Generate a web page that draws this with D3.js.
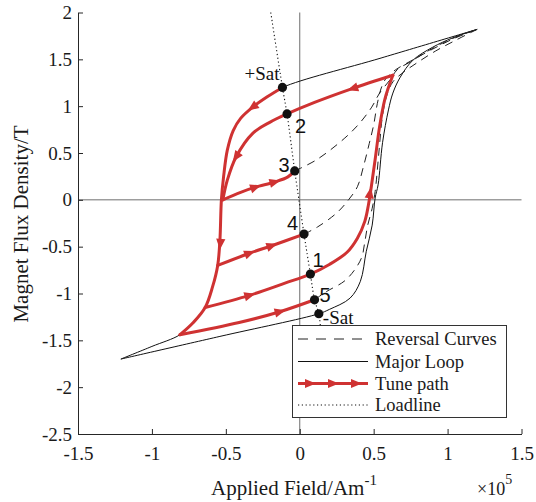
<!DOCTYPE html>
<html><head><meta charset="utf-8">
<script src="https://cdn.jsdelivr.net/npm/d3@7"></script>
<style>body{margin:0;background:#fff}svg{display:block}</style>
</head><body><svg id="c" width="536" height="502"></svg>
<script>
// ---------- data ----------
const xTicks = [-1.5, -1, -0.5, 0, 0.5, 1, 1.5];
const yTicks = [-2.5, -2, -1.5, -1, -0.5, 0, 0.5, 1, 1.5, 2];

// major loop (H in 1e5 A/m, B in T)
const majorDescH = [1.2, 0.55, -0.117, -0.22, -0.318, -0.40, -0.45, -0.49, -0.515, -0.53, -0.54, -0.555, -0.59, -0.64, -0.72, -0.81, -1.0, -1.21];
const majorDescB = [1.82, 1.514, 1.20, 1.10, 0.99, 0.87, 0.74, 0.53, 0.25, 0.0, -0.43, -0.70, -0.93, -1.15, -1.31, -1.44, -1.565, -1.70];
const majorAscH = [-1.21, -0.54, 0.129, 0.2, 0.34, 0.41, 0.45, 0.49, 0.51, 0.53, 0.56, 0.60, 0.63, 0.68, 0.765, 0.90, 1.036, 1.2];
const majorAscB = [-1.70, -1.458, -1.216, -1.17, -1.05, -0.87, -0.55, -0.27, 0.02, 0.16, 0.61, 0.96, 1.14, 1.31, 1.49, 1.63, 1.73, 1.82];

// reversal curves
const rev3H = [-0.034, 0.113, 0.305, 0.406, 0.487, 0.54, 0.61, 0.66, 0.745, 0.89, 1.03, 1.2];
const rev3B = [0.309, 0.427, 0.66, 0.82, 0.99, 1.14, 1.28, 1.39, 1.47, 1.61, 1.72, 1.82];
const rev4H = [0.029, 0.12, 0.25, 0.33, 0.39, 0.43, 0.47, 0.50, 0.525, 0.555, 0.59, 0.65, 0.76, 0.9, 1.04, 1.2];
const rev4B = [-0.366, -0.29, -0.14, 0.0, 0.14, 0.35, 0.6, 0.8, 1.03, 1.21, 1.31, 1.39, 1.49, 1.61, 1.72, 1.82];
const rev5H = [0.10, 0.18, 0.30, 0.37, 0.42, 0.44, 0.46, 0.49, 0.51, 0.535, 0.56, 0.59, 0.63, 0.70, 0.80, 0.92, 1.05, 1.2];
const rev5B = [-1.067, -0.98, -0.87, -0.75, -0.61, -0.45, -0.27, -0.09, 0.09, 0.5, 0.9, 1.12, 1.26, 1.36, 1.47, 1.59, 1.70, 1.82];

// tune path segments
const tuneAH = [-0.117, -0.22, -0.318, -0.40, -0.45, -0.49, -0.515, -0.53, -0.54, -0.555, -0.59, -0.64, -0.72, -0.81];
const tuneAB = [1.20, 1.10, 0.99, 0.87, 0.74, 0.53, 0.25, 0.0, -0.43, -0.70, -0.93, -1.15, -1.31, -1.44];
const tuneBH = [-0.81, -0.41, -0.135, 0.10];
const tuneBB = [-1.44, -1.31, -1.195, -1.067];
const tuneCH = [-0.64, -0.34, -0.10, 0.072, 0.2, 0.32, 0.39, 0.44, 0.465, 0.485, 0.51, 0.54, 0.575, 0.60, 0.63];
const tuneCB = [-1.15, -1.02, -0.89, -0.793, -0.69, -0.56, -0.41, -0.23, -0.05, 0.15, 0.43, 0.78, 1.07, 1.2, 1.33];
const tuneDH = [0.63, 0.35, 0.10, -0.086, -0.2, -0.318, -0.43, -0.49, -0.52];
const tuneDB = [1.33, 1.185, 1.04, 0.917, 0.83, 0.71, 0.46, 0.21, 0.0];
const tuneEH = [-0.52, -0.40, -0.30, -0.17, -0.08, -0.034];
const tuneEB = [0.0, 0.08, 0.135, 0.19, 0.245, 0.309];
const tuneFH = [-0.555, -0.34, -0.19, 0.029];
const tuneFB = [-0.70, -0.57, -0.49, -0.366];

// arrow markers on the tune path (segment index, H, B)
const arrowSeg = [0, 0, 1, 2, 2, 3, 3, 4, 4, 5, 5];
const arrowH = [-0.318, -0.537, -0.135, -0.34, 0.475, 0.36, -0.43, -0.30, -0.17, -0.34, -0.19];
const arrowB = [0.99, -0.47, -1.195, -1.02, 0.07, 1.19, 0.46, 0.135, 0.19, -0.57, -0.49];

// loadline
const loadH = [-0.196, -0.117, -0.086, -0.034, 0.029, 0.072, 0.10, 0.129, 0.14];
const loadB = [2.0, 1.20, 0.917, 0.309, -0.366, -0.793, -1.067, -1.216, -1.36];

// operating points
const pointH = [-0.117, -0.086, -0.034, 0.029, 0.072, 0.10, 0.129];
const pointB = [1.20, 0.917, 0.309, -0.366, -0.793, -1.067, -1.216];
const pointLabels = ["+Sat", "2", "3", "4", "1", "5", "-Sat"];

const legendLabels = ["Reversal Curves", "Major Loop", "Tune path", "Loadline"];

// ---------- drawing ----------
const RED = "#cf3232";
const SERIF = "'Liberation Serif','Times New Roman',serif";
const SANS = "'Liberation Sans',Arial,sans-serif";
const svg = d3.select("#c");
const x = d3.scaleLinear().domain([-1.5, 1.5]).range([78, 521.5]);
const y = d3.scaleLinear().domain([-2.5, 2]).range([434, 12.5]);
const zip = (hs, bs) => hs.map((h, i) => [h, bs[i]]);
const line = d3.line().x(d => x(d[0])).y(d => y(d[1])).curve(d3.curveCatmullRom.alpha(0.5));

// zero lines
svg.append("line").attr("x1", x(0)).attr("x2", x(0)).attr("y1", y(2)).attr("y2", y(-2.5))
  .attr("stroke", "#6e6e6e").attr("stroke-width", 1);
svg.append("line").attr("x1", x(-1.5)).attr("x2", x(1.5)).attr("y1", y(0)).attr("y2", y(0))
  .attr("stroke", "#6e6e6e").attr("stroke-width", 1);

// axes
const fmt = d => String(d);
const gx = svg.append("g").attr("transform", `translate(0,${y(-2.5)})`)
  .call(d3.axisBottom(x).tickValues(xTicks).tickFormat(fmt).tickSizeInner(-5).tickSizeOuter(0).tickPadding(13));
const gy = svg.append("g").attr("transform", `translate(${x(-1.5)},0)`)
  .call(d3.axisLeft(y).tickValues(yTicks).tickFormat(fmt).tickSizeInner(-5).tickSizeOuter(0).tickPadding(6));
[gx, gy].forEach(g => {
  g.attr("font-family", SERIF);
  g.select(".domain").attr("stroke", "#262626");
  g.selectAll(".tick line").attr("stroke", "#262626");
  g.selectAll("text").attr("font-family", SERIF).attr("font-size", 19).attr("fill", "#1a1a1a");
});

// major loop
[zip(majorDescH, majorDescB), zip(majorAscH, majorAscB)].forEach(pts => {
  svg.append("path").attr("d", line(pts)).attr("fill", "none").attr("stroke", "#111").attr("stroke-width", 1);
});
// reversal curves
[zip(rev3H, rev3B), zip(rev4H, rev4B), zip(rev5H, rev5B)].forEach(pts => {
  svg.append("path").attr("d", line(pts)).attr("fill", "none").attr("stroke", "#222")
    .attr("stroke-width", 1).attr("stroke-dasharray", "8,6");
});
// loadline
svg.append("path").attr("d", line(zip(loadH, loadB))).attr("fill", "none").attr("stroke", "#111")
  .attr("stroke-width", 1.1).attr("stroke-dasharray", "1.2,2.6");

// tune path
const tuneSegs = [zip(tuneAH, tuneAB), zip(tuneBH, tuneBB), zip(tuneCH, tuneCB), zip(tuneDH, tuneDB), zip(tuneEH, tuneEB), zip(tuneFH, tuneFB)];
tuneSegs.forEach(pts => {
  svg.append("path").attr("d", line(pts)).attr("fill", "none").attr("stroke", RED)
    .attr("stroke-width", 3).attr("stroke-linejoin", "round").attr("stroke-linecap", "round");
});
const tri = "M6,0 L-5,-4.6 L-5,4.6 Z";
arrowSeg.forEach((s, i) => {
  const px = x(arrowH[i]), py = y(arrowB[i]);
  const pts = tuneSegs[s].map(d => [x(d[0]), y(d[1])]);
  let best = 1e9, ang = 0;
  for (let k = 0; k < pts.length - 1; k++) {
    const [ax, ay] = pts[k], [bx, by] = pts[k + 1];
    const dx = bx - ax, dy = by - ay, L = dx * dx + dy * dy;
    let t = ((px - ax) * dx + (py - ay) * dy) / L; t = Math.max(0, Math.min(1, t));
    const qx = ax + t * dx, qy = ay + t * dy, dd = (px - qx) ** 2 + (py - qy) ** 2;
    if (dd < best) { best = dd; ang = Math.atan2(dy, dx) * 180 / Math.PI; }
  }
  svg.append("path").attr("d", tri).attr("fill", RED)
    .attr("transform", `translate(${px},${py}) rotate(${ang})`);
});

// points & labels
const labelOff = [[-3, -7, "end", SERIF, 19], [8, 19, "start", SANS, 20], [-5, 1, "end", SANS, 20], [-6, -4, "end", SANS, 20],
                  [2, -7, "start", SANS, 20], [5, 2, "start", SANS, 20], [4, 10, "start", SERIF, 19]];
pointH.forEach((h, i) => {
  svg.append("circle").attr("cx", x(h)).attr("cy", y(pointB[i])).attr("r", 4.6).attr("fill", "#111");
});
pointH.forEach((h, i) => {
  const o = labelOff[i];
  svg.append("text").attr("x", x(h) + o[0]).attr("y", y(pointB[i]) + o[1]).attr("text-anchor", o[2])
    .attr("font-family", o[3]).attr("font-size", o[4]).attr("fill", "#111").text(pointLabels[i]);
});

// axis labels
svg.append("text").attr("x", 294).attr("y", 495).attr("text-anchor", "middle")
  .attr("font-family", SERIF).attr("font-size", 21).attr("fill", "#1a1a1a")
  .call(t => { t.append("tspan").text("Applied Field/Am"); t.append("tspan").attr("dy", -10).attr("font-size", 15).text("-1"); });
svg.append("text").attr("transform", "translate(28,224) rotate(-90)").attr("text-anchor", "middle")
  .attr("font-family", SERIF).attr("font-size", 21).attr("fill", "#1a1a1a").text("Magnet Flux Density/T");
svg.append("text").attr("x", 477).attr("y", 495).attr("font-family", SERIF).attr("font-size", 18).attr("fill", "#1a1a1a")
  .call(t => { t.append("tspan").text("\u00d710"); t.append("tspan").attr("dy", -11).attr("font-size", 14).text("5"); });

// legend
const lg = svg.append("g");
lg.append("rect").attr("x", 292.5).attr("y", 325.5).attr("width", 214).attr("height", 92)
  .attr("fill", "#fff").attr("stroke", "#333").attr("stroke-width", 1);
const rowY = [339, 361.5, 383.5, 405];
legendLabels.forEach((lab, i) => {
  const ry = rowY[i];
  const ln = lg.append("line").attr("x1", 298).attr("x2", 368).attr("y1", ry).attr("y2", ry);
  if (i === 0) ln.attr("stroke", "#222").attr("stroke-width", 1).attr("stroke-dasharray", "10,8");
  if (i === 1) ln.attr("stroke", "#111").attr("stroke-width", 1);
  if (i === 2) {
    ln.attr("stroke", RED).attr("stroke-width", 3);
    [310, 333, 356].forEach(ax => lg.append("path").attr("d", tri).attr("fill", RED).attr("transform", `translate(${ax},${ry})`));
  }
  if (i === 3) ln.attr("stroke", "#111").attr("stroke-width", 1.1).attr("stroke-dasharray", "1.2,2.6");
  lg.append("text").attr("x", 375).attr("y", ry + 6).attr("font-family", SERIF).attr("font-size", 18.5)
    .attr("fill", "#1a1a1a").text(lab);
});
</script></body></html>
